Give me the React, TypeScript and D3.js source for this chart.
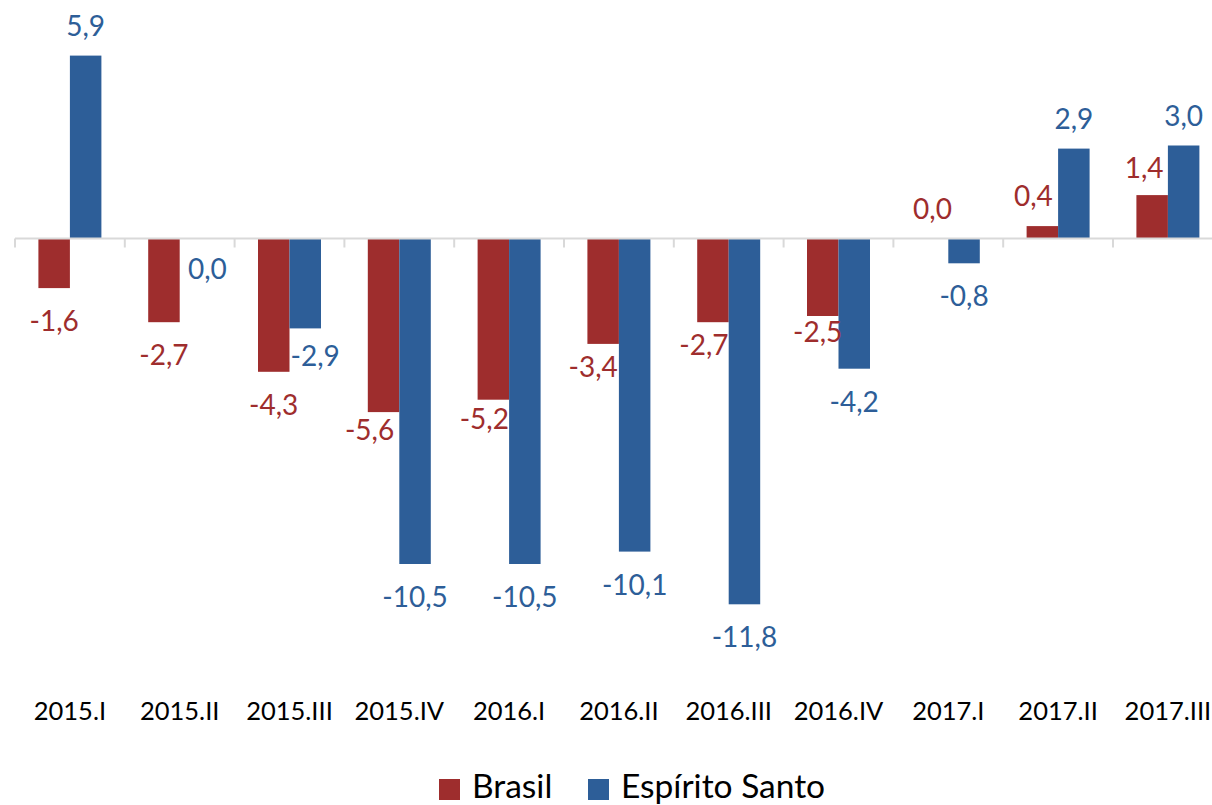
import React, { useEffect, useRef } from 'react';
import * as d3 from 'd3';

const WIDTH = 1212;
const HEIGHT = 805;

const categories = [
  '2015.I', '2015.II', '2015.III', '2015.IV', '2016.I', '2016.II',
  '2016.III', '2016.IV', '2017.I', '2017.II', '2017.III',
];
const series = ['Brasil', 'Espírito Santo'];
const brasil = [-1.6, -2.7, -4.3, -5.6, -5.2, -3.4, -2.7, -2.5, 0.0, 0.4, 1.4];
const espiritoSanto = [5.9, 0.0, -2.9, -10.5, -10.5, -10.1, -11.8, -4.2, -0.8, 2.9, 3.0];

const colors: Record<string, string> = {
  Brasil: '#9E2D2D',
  'Espírito Santo': '#2D5E98',
};

// hand placed labels in the original (dx, dy in px), keyed by series|category
const labelNudge: Record<string, [number, number]> = {
  'Espírito Santo|2015.II': [12, 60],
  'Espírito Santo|2015.III': [10, -5],
  'Brasil|2015.IV': [-14, -15],
  'Brasil|2016.I': [-9, -14],
  'Brasil|2016.II': [-10, -10],
  'Brasil|2016.III': [-9, -10],
  'Brasil|2016.IV': [-5, -17],
  'Brasil|2017.II': [-9, 0],
  'Brasil|2017.III': [-8, 3],
};

const fmt = (v: number) => v.toFixed(1).replace('.', ',');

const App: React.FC = () => {
  const ref = useRef<SVGSVGElement>(null);

  useEffect(() => {
    document.body.style.margin = '0';
    const svg = d3.select(ref.current);
    svg.selectAll('*').remove();

    const font = 'Lato, "Open Sans", sans-serif';

    const x0 = d3.scaleBand().domain(categories).range([15, 15 + 11 * 109.8]);
    const x1 = d3
      .scaleBand()
      .domain(series)
      .range([0, x0.bandwidth()])
      .paddingOuter(0.743);
    const y = d3.scaleLinear().domain([-12, 6]).range([610.5, 52.5]);

    const rows = categories.map((c, i) => ({
      cat: c,
      vals: [
        { key: 'Brasil', v: brasil[i] },
        { key: 'Espírito Santo', v: espiritoSanto[i] },
      ],
    }));

    const groups = svg
      .append('g')
      .selectAll('g')
      .data(rows)
      .join('g')
      .attr('transform', (d) => `translate(${x0(d.cat)},0)`);

    groups
      .selectAll('rect')
      .data((d) => d.vals)
      .join('rect')
      .attr('x', (d) => x1(d.key)!)
      .attr('width', x1.bandwidth())
      .attr('y', (d) => Math.min(y(d.v), y(0)))
      .attr('height', (d) => Math.abs(y(d.v) - y(0)))
      .attr('fill', (d) => colors[d.key]);

    // axis line with category separators
    const axis = svg.append('g');
    axis
      .append('line')
      .attr('x1', 15)
      .attr('x2', WIDTH)
      .attr('y1', y(0))
      .attr('y2', y(0))
      .attr('stroke', '#D9D9D9')
      .attr('stroke-width', 2);
    axis
      .selectAll('line.tick')
      .data(categories)
      .join('line')
      .attr('class', 'tick')
      .attr('x1', (d) => x0(d)!)
      .attr('x2', (d) => x0(d)!)
      .attr('y1', y(0))
      .attr('y2', y(0) + 9)
      .attr('stroke', '#D9D9D9')
      .attr('stroke-width', 2);

    // value labels
    groups
      .selectAll('text')
      .data((d) => d.vals.map((v) => ({ ...v, cat: d.cat })))
      .join('text')
      .attr('x', (d) => x1(d.key)! + x1.bandwidth() / 2 + (labelNudge[`${d.key}|${d.cat}`]?.[0] ?? 0))
      .attr('y', (d) => {
        const base = d.v >= 0 ? y(d.v) - 20 : y(d.v) + 43;
        return base + (labelNudge[`${d.key}|${d.cat}`]?.[1] ?? 0);
      })
      .attr('text-anchor', 'middle')
      .attr('font-family', font)
      .attr('font-size', 28)
      .attr('fill', (d) => colors[d.key])
      .text((d) => fmt(d.v));

    // category labels
    svg
      .append('g')
      .selectAll('text')
      .data(categories)
      .join('text')
      .attr('x', (d) => x0(d)! + x0.bandwidth() / 2)
      .attr('y', 720)
      .attr('text-anchor', 'middle')
      .attr('font-family', font)
      .attr('font-size', 25.5)
      .attr('fill', '#000')
      .text((d) => d);

    // legend
    const legendX = [439, 588];
    const legend = svg
      .append('g')
      .selectAll('g')
      .data(series)
      .join('g')
      .attr('transform', (_, i) => `translate(${legendX[i]},779)`);
    legend
      .append('rect')
      .attr('width', 21)
      .attr('height', 21)
      .attr('fill', (d) => colors[d]);
    legend
      .append('text')
      .attr('x', 33)
      .attr('y', 19)
      .attr('font-family', font)
      .attr('font-size', 33.5)
      .attr('fill', '#000')
      .text((d) => d);
  }, []);

  return (
    <svg
      ref={ref}
      width={WIDTH}
      height={HEIGHT}
      style={{ display: 'block', background: '#fff' }}
    />
  );
};

export default App;
